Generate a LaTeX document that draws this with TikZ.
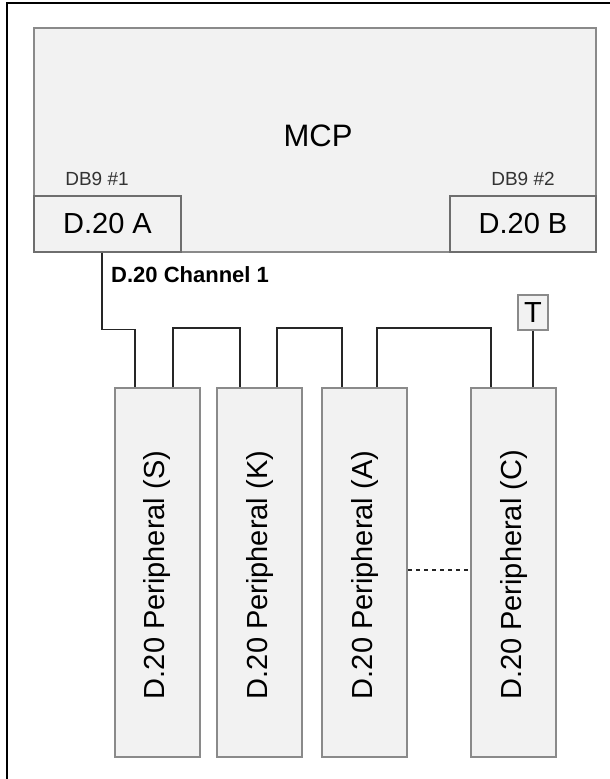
\documentclass[tikz,border=0pt]{standalone}
\usepackage{fontspec}
\setmainfont{Liberation Sans}
\definecolor{boxfill}{HTML}{F2F2F2}
\definecolor{boxline}{HTML}{8A8A8A}
\definecolor{portline}{HTML}{6E6E6E}
\definecolor{smalltext}{HTML}{333333}
\begin{document}
\begin{tikzpicture}[x=1pt,y=-1pt,
  bigbox/.style={draw=boxline,fill=boxfill,line width=2pt,inner sep=0pt},
  portbox/.style={draw=portline,fill=boxfill,line width=1.1pt,inner sep=0pt,minimum width=147pt,minimum height=56pt,font=\fontsize{29}{34}\selectfont},
  perbox/.style={draw=boxline,fill=boxfill,line width=2pt,inner sep=0pt,minimum width=85pt,minimum height=369pt},
  pertext/.style={rotate=90,font=\fontsize{29}{34}\selectfont},
  wire/.style={draw=black!85,line width=1.4pt},
  smalllbl/.style={text=smalltext,font=\fontsize{19}{22}\selectfont},
]
\useasboundingbox (0,0) rectangle (610,779);
% outer frame
\draw[line width=2pt] (7,782) -- (7,3) -- (613,3);
% MCP
\node[bigbox,minimum width=562pt,minimum height=224pt] (mcp) at (315,140) {};
\node[font=\fontsize{31}{36}\selectfont] (mcplbl) at (318,136) {MCP};
\node[smalllbl] (db1) at (97,179) {DB9 \#1};
\node[smalllbl] (db2) at (523,179) {DB9 \#2};
\node[portbox] (d20a) at (107.5,224) {D.20 A};
\node[portbox,minimum width=146pt] (d20b) at (523,224) {D.20 B};
% channel label
\node[anchor=west,font=\bfseries\fontsize{22}{26}\selectfont,inner sep=0pt] (chan) at (111,275) {D.20 Channel 1};
% peripherals
\node[perbox] (p1) at (157.5,572.5) {};
\node[perbox] (p2) at (259.5,572.5) {};
\node[perbox] (p3) at (364.5,572.5) {};
\node[perbox] (p4) at (513.5,572.5) {};
\node[pertext] (t1) at (157.5,575) {D.20 Peripheral (S)};
\node[pertext] (t2) at (259.5,575) {D.20 Peripheral (K)};
\node[pertext] (t3) at (364.5,575) {D.20 Peripheral (A)};
\node[pertext] (t4) at (513.5,575) {D.20 Peripheral (C)};
% terminator
\node[draw=boxline,fill=boxfill,line width=1.5pt,minimum width=30pt,minimum height=35pt,inner sep=0pt,font=\fontsize{29}{34}\selectfont] (term) at (533,312.5) {T};
% wires
\draw[wire] ([xshift=-5.5pt]d20a.south) -- ++(0,77) -| ([xshift=21pt]p1.north west);
\draw[wire] ([xshift=59pt]p1.north west) -- ++(0,-59) -| ([xshift=24pt]p2.north west);
\draw[wire] ([xshift=61pt]p2.north west) -- ++(0,-59) -| ([xshift=21pt]p3.north west);
\draw[wire] ([xshift=56pt]p3.north west) -- ++(0,-59) -| ([xshift=21pt]p4.north west);
\draw[wire] (term.south) -- (term.south |- p4.north);
\draw[wire,dash pattern=on 4pt off 4pt] ([yshift=2.5pt]p3.east) -- ([yshift=2.5pt]p4.west);
\end{tikzpicture}
\end{document}
